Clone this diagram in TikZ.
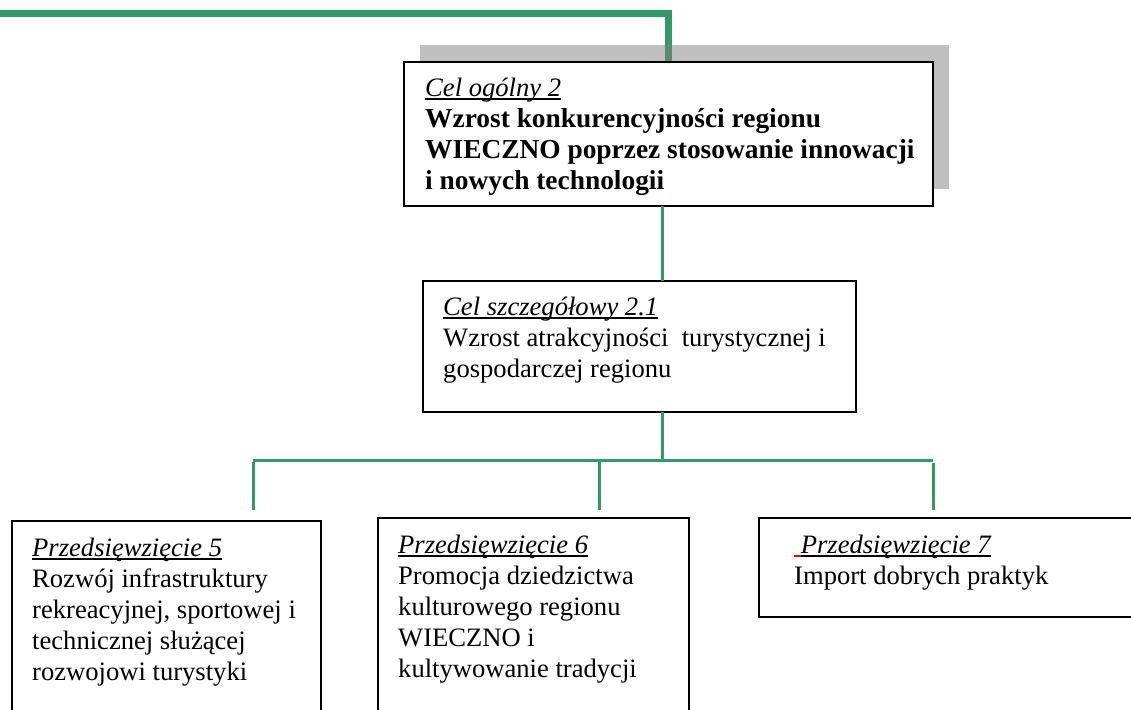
\documentclass[tikz,border=0pt]{standalone}
\usepackage{fontspec}
\setmainfont{Liberation Serif}
\definecolor{lg}{HTML}{339966}
\newcommand\myul[1]{\setbox0=\hbox{#1}\rlap{\rule[-3.5pt]{\wd0}{1.6pt}}\box0}
\begin{document}
\begin{tikzpicture}[x=1pt,y=-1pt,
  gline/.style={draw=lg,line width=3pt},
  gthick/.style={draw=lg,line width=7pt},
  boxn/.style={draw=black,fill=white,line width=2pt,anchor=north west,inner sep=0pt,outer sep=0pt},
  txt/.style={anchor=north west,inner sep=0pt,align=left,font=\fontsize{26.6}{31}\selectfont},
  bt/.style={font=\fontsize{27.4}{31}\selectfont\bfseries}]
\useasboundingbox (0,0) rectangle (1131,709);
\clip (0,0) rectangle (1131,709);
% thick green line at top
\coordinate (s) at (-10,13.5);
\coordinate (c) at (668.5,13.5);
\coordinate (cb) at (668.5,62);
\draw[gthick] (s) -- (c) -- (cb);
% shadow
\fill[black!50,fill opacity=0.5] (420,45) rectangle (949,189);
% boxes
\node[boxn,minimum width=529pt,minimum height=144pt] (b1) at (404,62) {};
\node[boxn,minimum width=433pt,minimum height=131pt] (b2) at (423,281) {};
\node[boxn,minimum width=309pt,minimum height=220pt] (b5) at (12,521) {};
\node[boxn,minimum width=311pt,minimum height=220pt] (b6) at (378,518) {};
\node[boxn,minimum width=400pt,minimum height=99pt] (b7) at (759,518) {};
% connectors
\coordinate (j) at (662,460);
\coordinate (d5) at (253,510);
\coordinate (d6) at (599,510);
\coordinate (d7) at (933,510);
\draw[gline] (b1.south -| j) -- (b2.north -| j);
\draw[gline] (b2.south -| j) -- (j);
\draw[gline] (d5 |- j) -- (d7 |- j);
\draw[gline] ([yshift=-1.5pt]d5 |- j) -- (d5);
\draw[gline] ([yshift=-1.5pt]d6 |- j) -- (d6);
\draw[gline] ([yshift=-3pt]d7 |- j) -- (d7);
% texts
\node[txt] (t1a) at (425,74.3) {\strut\myul{\itshape Cel ogólny 2}};
\node[txt,bt] (t1) at (425,105.8) {\strut Wzrost konkurencyjności regionu\\
  \strut WIECZNO poprzez stosowanie innowacji\\
  \strut i nowych technologii};
\node[txt] (t2) at (443,293.3) {\strut\myul{\itshape Cel szczegółowy 2.1}\\
  \strut Wzrost atrakcyjności~ turystycznej i\\
  \strut gospodarczej regionu};
\node[txt] (t5) at (32,534.3) {\strut\myul{\itshape Przedsięwzięcie 5}\\
  \strut Rozwój infrastruktury\\
  \strut rekreacyjnej, sportowej i\\
  \strut technicznej służącej\\
  \strut rozwojowi turystyki};
\node[txt] (t6) at (398,531.3) {\strut\myul{\itshape Przedsięwzięcie 6}\\
  \strut Promocja dziedzictwa\\
  \strut kulturowego regionu\\
  \strut WIECZNO i\\
  \strut kultywowanie tradycji};
\node[txt] (t7) at (794,531.3) {\strut{\color{red}\rule[-3.5pt]{6.6pt}{1.6pt}}\myul{\itshape Przedsięwzięcie 7}\\
  \strut Import dobrych praktyk};
\end{tikzpicture}
\end{document}
